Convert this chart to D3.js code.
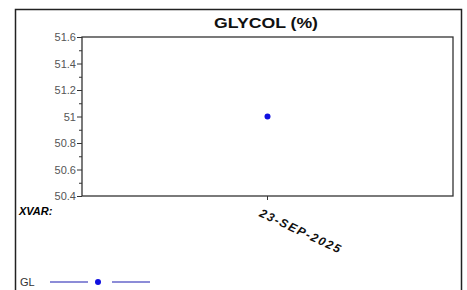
<!DOCTYPE html>
<html><head><meta charset="utf-8">
<script src="https://cdn.jsdelivr.net/npm/d3@7"></script>
<style>body{margin:0;background:#fff}svg{display:block}</style>
</head><body>
<script>
const categories = ["23-SEP-2025"];
const values = [51.0];
const yTicks = [50.4, 50.6, 50.8, 51, 51.2, 51.4, 51.6];
const title = "GLYCOL (%)";
const seriesName = "GL";

const W = 467, H = 290;
const svg = d3.select("body").append("svg").attr("width", W).attr("height", H);
svg.append("rect").attr("x", 15.5).attr("y", 9.5).attr("width", 446).attr("height", 290)
  .attr("fill", "none").attr("stroke", "#222").attr("stroke-width", 1.5);

const L = 82, R = 453, T = 37, B = 196;
const x = d3.scaleBand().domain(categories).range([L, R]);
const y = d3.scaleLinear().domain([50.4, 51.6]).range([B, T]);

svg.append("text").attr("x", 266).attr("y", 28).attr("text-anchor", "middle")
  .attr("font-family", "Liberation Sans, Arial, sans-serif").attr("font-weight", "bold")
  .attr("font-size", 14).attr("fill", "#111")
  .attr("textLength", 104).attr("lengthAdjust", "spacingAndGlyphs").text(title);

svg.append("rect").attr("x", L).attr("y", T).attr("width", R - L).attr("height", B - T)
  .attr("fill", "none").attr("stroke", "#333").attr("stroke-width", 1.3);

const yAxis = svg.append("g").attr("transform", `translate(${L},0)`)
  .call(d3.axisLeft(y).tickValues(yTicks).tickFormat(d3.format("")).tickSize(5).tickPadding(1));
yAxis.select(".domain").remove();
yAxis.selectAll("line").attr("stroke", "#333");
yAxis.selectAll("text").attr("font-family", "Liberation Sans, Arial, sans-serif")
  .attr("font-size", 11).attr("fill", "#555");
const minor = d3.range(50.5, 51.6, 0.2);
svg.append("g").attr("transform", `translate(${L},0)`)
  .call(d3.axisLeft(y).tickValues(minor).tickFormat("").tickSize(3))
  .call(g => g.select(".domain").remove())
  .selectAll("line").attr("stroke", "#333");

const xAxis = svg.append("g").attr("transform", `translate(0,${B})`)
  .call(d3.axisBottom(x).tickSize(4));
xAxis.select(".domain").remove();
xAxis.selectAll("line").attr("stroke", "#333");
xAxis.selectAll("text").attr("font-family", "Liberation Sans, Arial, sans-serif")
  .attr("font-size", 12).attr("font-weight", "bold").attr("font-style", "italic").attr("fill", "#111")
  .attr("text-anchor", "start").attr("x", 0).attr("y", 0).attr("dy", 0)
  .attr("letter-spacing", 1.6)
  .attr("transform", "translate(-9,20) rotate(25)");

svg.append("text").attr("x", 19).attr("y", 215)
  .attr("font-family", "Liberation Sans, Arial, sans-serif").attr("font-weight", "bold")
  .attr("font-style", "italic").attr("font-size", 11).text("XVAR:");

svg.selectAll("circle.pt").data(values).enter().append("circle").attr("class", "pt")
  .attr("cx", (d, i) => x(categories[i]) + x.bandwidth() / 2).attr("cy", d => y(d))
  .attr("r", 3).attr("fill", "#1010e0");

const lg = svg.append("g");
lg.append("text").attr("x", 20).attr("y", 286).attr("font-family", "Liberation Sans, Arial, sans-serif")
  .attr("font-size", 11).attr("fill", "#333").text(seriesName);
lg.append("line").attr("x1", 50).attr("x2", 88).attr("y1", 282).attr("y2", 282).attr("stroke", "#1a1ab0").attr("stroke-width", 1.2);
lg.append("line").attr("x1", 112).attr("x2", 150).attr("y1", 282).attr("y2", 282).attr("stroke", "#1a1ab0").attr("stroke-width", 1.2);
lg.append("circle").attr("cx", 98).attr("cy", 282).attr("r", 3).attr("fill", "#1010e0");
</script>
</body></html>
